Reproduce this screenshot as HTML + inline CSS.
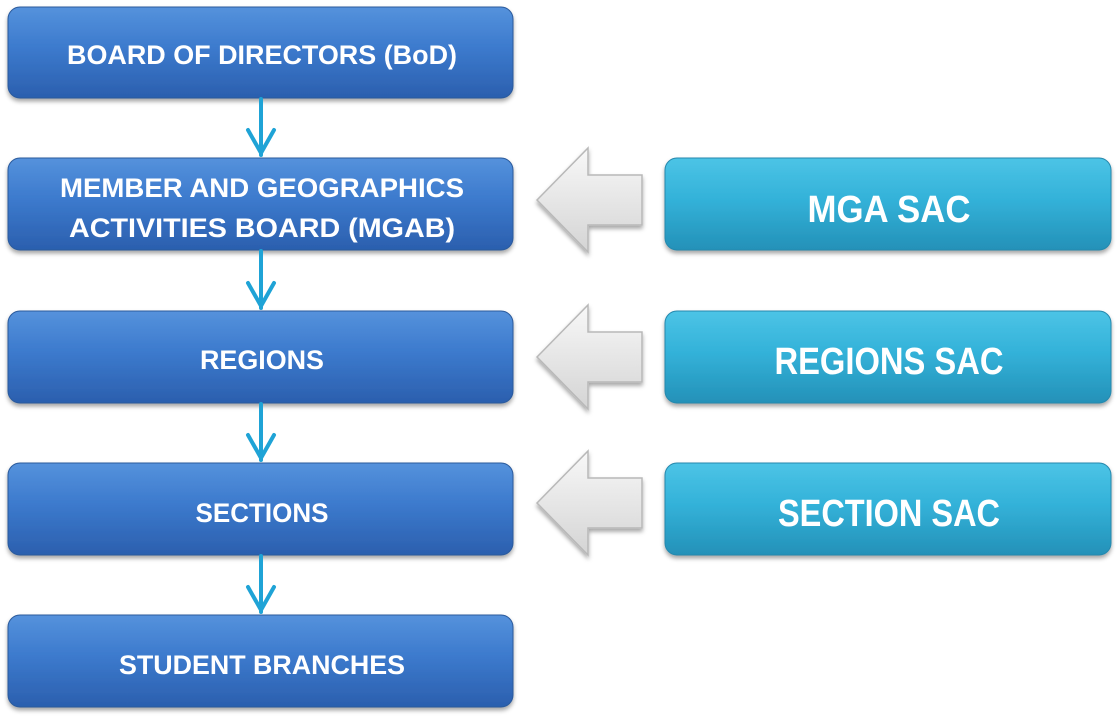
<!DOCTYPE html>
<html><head><meta charset="utf-8"><style>
html,body{margin:0;padding:0;background:#fff;}
svg{display:block;}
text{font-family:"Liberation Sans",Arial,sans-serif;font-weight:bold;fill:#fff;}
</style></head><body>
<svg width="1120" height="721" viewBox="0 0 1120 721" xmlns="http://www.w3.org/2000/svg">
<defs>
<linearGradient id="bl" x1="0" y1="0" x2="0" y2="1">
<stop offset="0" stop-color="#5592dc"/><stop offset="0.45" stop-color="#3c7acd"/><stop offset="1" stop-color="#2b5fae"/></linearGradient>
<linearGradient id="cy" x1="0" y1="0" x2="0" y2="1">
<stop offset="0" stop-color="#4cc4e6"/><stop offset="0.45" stop-color="#33b2d9"/><stop offset="1" stop-color="#2491b8"/></linearGradient>
<linearGradient id="gr" x1="0" y1="0" x2="0" y2="1">
<stop offset="0" stop-color="#f8f8f8"/><stop offset="1" stop-color="#d4d4d4"/></linearGradient>
<filter id="sh" x="-5%" y="-10%" width="110%" height="130%"><feDropShadow dx="0" dy="3" stdDeviation="2" flood-color="#000" flood-opacity="0.35"/></filter>
</defs>
<g filter="url(#sh)">
<rect x="8" y="7" width="505" height="91" rx="12" fill="url(#bl)" stroke="#2b5a9c"/>
<rect x="8" y="158" width="505" height="92" rx="12" fill="url(#bl)" stroke="#2b5a9c"/>
<rect x="8" y="311" width="505" height="92" rx="12" fill="url(#bl)" stroke="#2b5a9c"/>
<rect x="8" y="463" width="505" height="92" rx="12" fill="url(#bl)" stroke="#2b5a9c"/>
<rect x="8" y="615" width="505" height="92" rx="12" fill="url(#bl)" stroke="#2b5a9c"/>
<rect x="665" y="158" width="446" height="92" rx="12" fill="url(#cy)" stroke="#2588ad"/>
<rect x="665" y="311" width="446" height="92" rx="12" fill="url(#cy)" stroke="#2588ad"/>
<rect x="665" y="463" width="446" height="92" rx="12" fill="url(#cy)" stroke="#2588ad"/>
</g>
<g fill="url(#gr)" stroke="#b8b8b8" stroke-width="1.5" filter="url(#sh)">
<path d="M537 200 L588 148 L588 175 L642 175 L642 225 L588 225 L588 252 Z"/>
<path d="M537 357 L588 305 L588 332 L642 332 L642 382 L588 382 L588 409 Z"/>
<path d="M537 503 L588 451 L588 478 L642 478 L642 528 L588 528 L588 555 Z"/>
</g>
<g stroke="#1fa3d6" stroke-width="4" fill="none" stroke-linecap="round" stroke-linejoin="round">
<path d="M261 99 V155 M248 130 L261 153 L274 130"/>
<path d="M261 251 V308 M248 283 L261 306 L274 283"/>
<path d="M261 404 V460 M248 435 L261 458 L274 435"/>
<path d="M261 556 V612 M248 587 L261 610 L274 587"/>
</g>
<g font-size="27" text-anchor="middle">
<text x="262" y="64" textLength="390" lengthAdjust="spacingAndGlyphs">BOARD OF DIRECTORS (BoD)</text>
<text x="262" y="197" textLength="404" lengthAdjust="spacingAndGlyphs">MEMBER AND GEOGRAPHICS</text>
<text x="262" y="237" textLength="386" lengthAdjust="spacingAndGlyphs">ACTIVITIES BOARD (MGAB)</text>
<text x="262" y="369" textLength="124" lengthAdjust="spacingAndGlyphs">REGIONS</text>
<text x="262" y="522" textLength="133" lengthAdjust="spacingAndGlyphs">SECTIONS</text>
<text x="262" y="674" textLength="286" lengthAdjust="spacingAndGlyphs">STUDENT BRANCHES</text>
</g>
<g font-size="38" text-anchor="middle">
<text x="889" y="222" textLength="163" lengthAdjust="spacingAndGlyphs">MGA SAC</text>
<text x="889" y="374" textLength="229" lengthAdjust="spacingAndGlyphs">REGIONS SAC</text>
<text x="889" y="526" textLength="222" lengthAdjust="spacingAndGlyphs">SECTION SAC</text>
</g>
</svg>
</body></html>
